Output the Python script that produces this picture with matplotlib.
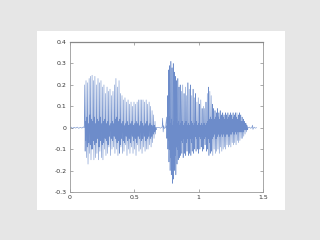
import numpy as np
import matplotlib.pyplot as plt
from matplotlib.patches import Rectangle

# speech waveform: one stroke per visible pitch period
# segment 1 (first voiced part)
t1 = [0.118, 0.128, 0.140, 0.152, 0.163, 0.175, 0.186, 0.197, 0.209, 0.221,
      0.232, 0.244, 0.256, 0.267, 0.279, 0.291, 0.302, 0.314, 0.326, 0.337,
      0.349, 0.360, 0.372, 0.384, 0.395, 0.407, 0.419, 0.430, 0.442, 0.454,
      0.465, 0.477, 0.489, 0.500, 0.512, 0.524, 0.535, 0.547, 0.559, 0.570,
      0.582, 0.594, 0.605, 0.617, 0.629, 0.640, 0.652, 0.663]
top1 = [0.20, 0.22, 0.21, 0.23, 0.24, 0.245, 0.22, 0.24, 0.20, 0.23,
        0.21, 0.22, 0.19, 0.20, 0.16, 0.19, 0.17, 0.18, 0.15, 0.17,
        0.20, 0.23, 0.19, 0.22, 0.16, 0.15, 0.13, 0.14, 0.12, 0.13,
        0.11, 0.12, 0.10, 0.12, 0.11, 0.12, 0.13, 0.13, 0.13, 0.13,
        0.12, 0.13, 0.11, 0.12, 0.10, 0.08, 0.06, 0.03]
bot1 = [-0.11, -0.14, -0.17, -0.12, -0.15, -0.10, -0.15, -0.14, -0.12, -0.15,
        -0.11, -0.14, -0.15, -0.10, -0.13, -0.12, -0.09, -0.13, -0.10, -0.09,
        -0.12, -0.10, -0.13, -0.12, -0.09, -0.12, -0.11, -0.08, -0.13, -0.10,
        -0.12, -0.09, -0.12, -0.10, -0.13, -0.08, -0.11, -0.10, -0.12, -0.09,
        -0.11, -0.10, -0.10, -0.08, -0.09, -0.07, -0.05, -0.03]
hi1 = [0.03, 0.05, 0.02, 0.06, 0.04, 0.03, 0.05, 0.02, 0.04, 0.03,
       0.05, 0.02, 0.03, 0.04, 0.02, 0.03, 0.01, 0.02, 0.03, 0.02,
       0.04, 0.05, 0.03, 0.04, 0.02, 0.03, 0.01, 0.02, 0.03, 0.01,
       0.02, 0.03, 0.01, 0.02, 0.03, 0.02, 0.01, 0.03, 0.02, 0.01,
       0.02, 0.03, 0.01, 0.02, 0.01, 0.01, 0.01, 0.00]
lo1 = [-0.06, -0.09, -0.07, -0.08, -0.10, -0.06, -0.08, -0.07, -0.05, -0.09,
       -0.06, -0.08, -0.07, -0.05, -0.06, -0.08, -0.04, -0.05, -0.06, -0.04,
       -0.05, -0.07, -0.06, -0.08, -0.05, -0.06, -0.07, -0.04, -0.06, -0.05,
       -0.07, -0.04, -0.06, -0.05, -0.07, -0.04, -0.05, -0.06, -0.05, -0.04,
       -0.06, -0.05, -0.04, -0.05, -0.04, -0.03, -0.02, -0.01]

# segment 2 (second voiced part)
t2 = [0.752, 0.760, 0.768, 0.777, 0.786, 0.795, 0.804, 0.813, 0.822, 0.831,
      0.840, 0.849, 0.858, 0.868, 0.878, 0.888, 0.898, 0.908, 0.918, 0.928,
      0.938, 0.948, 0.958, 0.968, 0.978, 0.988, 0.998, 1.008, 1.018, 1.028,
      1.038, 1.048, 1.058, 1.068, 1.078, 1.088, 1.098, 1.108, 1.118, 1.128,
      1.138, 1.148, 1.158, 1.168, 1.178, 1.188, 1.198, 1.208, 1.218, 1.228,
      1.238, 1.248, 1.258, 1.268, 1.278, 1.288, 1.298, 1.308, 1.318, 1.328,
      1.338, 1.348, 1.358, 1.368, 1.378]
top2 = [0.05, 0.15, 0.27, 0.29, 0.31, 0.28, 0.30, 0.26, 0.24, 0.22,
        0.23, 0.19, 0.20, 0.17, 0.20, 0.16, 0.19, 0.15, 0.21, 0.18,
        0.20, 0.15, 0.18, 0.14, 0.16, 0.12, 0.14, 0.11, 0.13, 0.09,
        0.10, 0.09, 0.12, 0.16, 0.19, 0.17, 0.15, 0.11, 0.09, 0.08,
        0.07, 0.09, 0.07, 0.08, 0.06, 0.07, 0.06, 0.07, 0.06, 0.07,
        0.06, 0.07, 0.06, 0.07, 0.06, 0.07, 0.07, 0.06, 0.07, 0.06,
        0.05, 0.04, 0.03, 0.02, 0.01]
bot2 = [-0.05, -0.10, -0.16, -0.20, -0.22, -0.26, -0.24, -0.20, -0.22, -0.17,
        -0.15, -0.14, -0.13, -0.12, -0.14, -0.12, -0.13, -0.11, -0.13, -0.12,
        -0.13, -0.11, -0.12, -0.10, -0.11, -0.10, -0.12, -0.10, -0.09, -0.11,
        -0.10, -0.08, -0.11, -0.10, -0.13, -0.12, -0.11, -0.13, -0.10, -0.12,
        -0.11, -0.10, -0.12, -0.09, -0.11, -0.10, -0.09, -0.10, -0.08, -0.09,
        -0.08, -0.09, -0.07, -0.08, -0.07, -0.08, -0.06, -0.07, -0.06, -0.05,
        -0.05, -0.04, -0.03, -0.02, -0.01]
hi2 = [0.01, 0.03, 0.05, 0.02, 0.04, 0.01, 0.03, 0.02, 0.04, 0.02,
       0.03, 0.01, 0.02, 0.03, 0.01, 0.02, 0.03, 0.01, 0.02, 0.01,
       0.03, 0.02, 0.01, 0.02, 0.03, 0.01, 0.02, 0.01, 0.02, 0.01,
       0.02, 0.01, 0.02, 0.03, 0.04, 0.05, 0.04, 0.03, 0.04, 0.05,
       0.04, 0.05, 0.04, 0.05, 0.04, 0.05, 0.04, 0.05, 0.04, 0.05,
       0.04, 0.05, 0.04, 0.05, 0.04, 0.05, 0.04, 0.04, 0.03, 0.03,
       0.03, 0.02, 0.02, 0.01, 0.00]
lo2 = [-0.02, -0.06, -0.10, -0.14, -0.12, -0.15, -0.11, -0.13, -0.09, -0.10,
       -0.08, -0.07, -0.06, -0.07, -0.05, -0.06, -0.07, -0.05, -0.06, -0.05,
       -0.07, -0.05, -0.06, -0.04, -0.05, -0.06, -0.04, -0.05, -0.04, -0.06,
       -0.05, -0.04, -0.06, -0.05, -0.07, -0.06, -0.05, -0.04, -0.03, -0.05,
       -0.04, -0.03, -0.04, -0.03, -0.04, -0.03, -0.04, -0.03, -0.03, -0.04,
       -0.03, -0.03, -0.02, -0.03, -0.02, -0.03, -0.02, -0.02, -0.02, -0.02,
       -0.02, -0.01, -0.01, -0.01, 0.00]

# silent stretches between/around the voiced parts
t_sil1 = [0.0, 0.012, 0.024, 0.036, 0.048, 0.060, 0.072, 0.084, 0.096, 0.108, 0.114]
y_sil1 = [0.0, 0.003, -0.003, 0.002, -0.002, 0.003, -0.003, 0.002, -0.002, 0.004, 0.0]
t_gap = [0.672, 0.690, 0.705, 0.718, 0.722, 0.726, 0.730, 0.735, 0.745]
y_gap = [0.0, 0.002, -0.002, 0.003, 0.045, -0.02, 0.01, -0.003, 0.0]
t_sil2 = [1.386, 1.395, 1.405, 1.414, 1.418, 1.422, 1.430, 1.440, 1.450]
y_sil2 = [0.0, 0.003, -0.003, 0.002, 0.012, -0.008, 0.003, -0.002, 0.0]

yticks = [-0.3, -0.2, -0.1, 0, 0.1, 0.2, 0.3, 0.4]
ytick_labels = ['-0.3', '-0.2', '-0.1', '0', '0.1', '0.2', '0.3', '0.4']
xticks = [0, 0.5, 1, 1.5]
xtick_labels = ['0', '0.5', '1', '1.5']


def strokes(t, top, bot, hi, lo):
    # one pitch period: peak -> trough -> small rise -> small dip
    xs, ys = [], []
    for i in range(len(t)):
        p = t[i + 1] - t[i] if i + 1 < len(t) else t[i] - t[i - 1]
        xs += [t[i], t[i] + 0.3 * p, t[i] + 0.55 * p, t[i] + 0.8 * p]
        ys += [top[i], bot[i], hi[i], lo[i]]
    return xs, ys


x1, y1 = strokes(t1, top1, bot1, hi1, lo1)
x2, y2 = strokes(t2, top2, bot2, hi2, lo2)
x = t_sil1 + x1 + t_gap + x2 + t_sil2
y = y_sil1 + y1 + y_gap + y2 + y_sil2

fig = plt.figure(figsize=(3.2, 2.4), dpi=100, facecolor='#e6e6e6')
fig.add_artist(Rectangle((37/320, 30/240), 248/320, 179/240,
                         transform=fig.transFigure, facecolor='white',
                         edgecolor='none', zorder=0))
ax = fig.add_axes([69.5/320, 48/240, 193.5/320, 150/240])
ax.plot(x, y, color='#2f5cb4', lw=0.4, alpha=0.7)

ax.set_xlim(0, 1.5)
ax.set_ylim(-0.3, 0.4)
ax.set_xticks(xticks)
ax.set_xticklabels(xtick_labels)
ax.set_yticks(yticks)
ax.set_yticklabels(ytick_labels)
ax.tick_params(direction='in', length=2, width=0.5, color='#888888',
               labelsize=4.5, labelcolor='#333333', pad=2,
               top=True, right=True)
for s in ax.spines.values():
    s.set_color('#999999')
    s.set_linewidth(0.6)
ax.spines['top'].set_color('#888888')
ax.spines['top'].set_linewidth(0.9)

fig.savefig('out.png', dpi=100, facecolor=fig.get_facecolor())
